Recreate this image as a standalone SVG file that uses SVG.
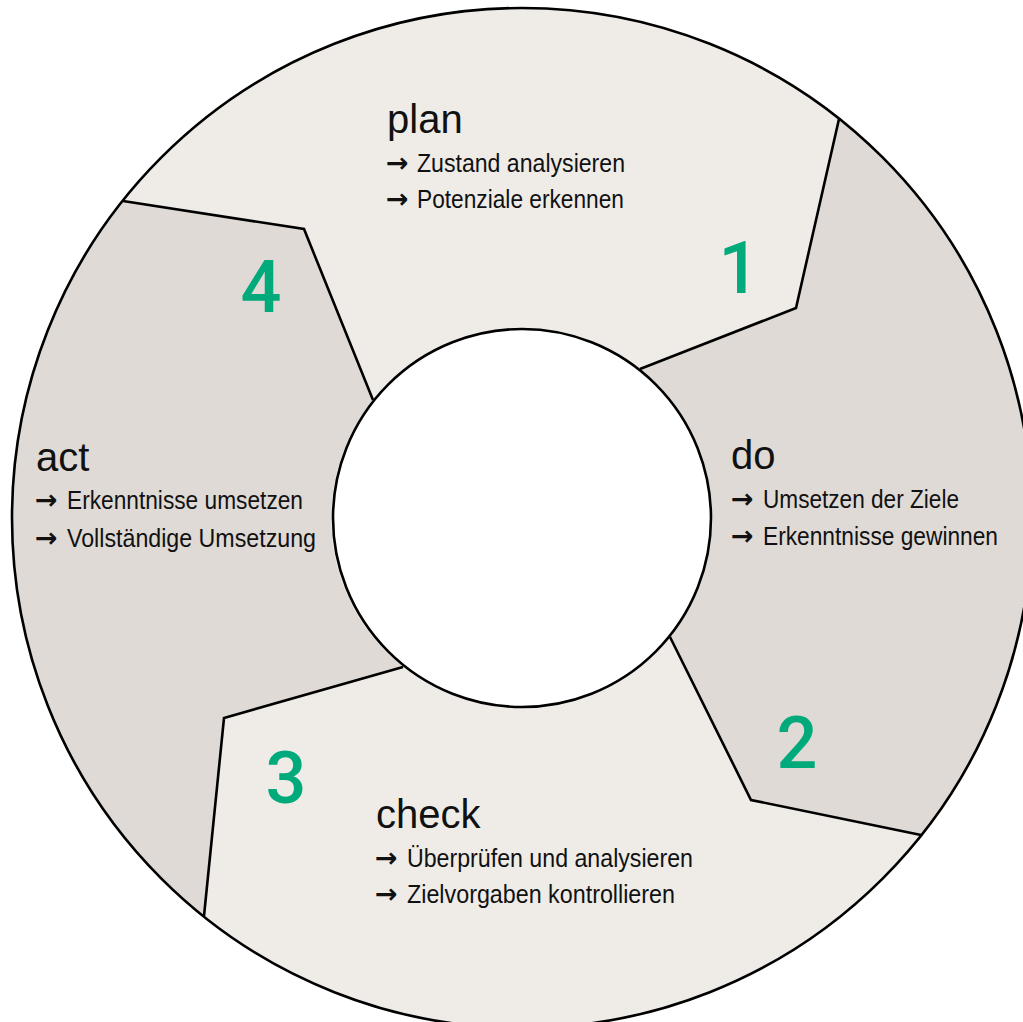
<svg xmlns="http://www.w3.org/2000/svg" width="1023" height="1022" viewBox="0 0 1023 1022">
  <style>
    .light { fill: #efece8; }
    .dark { fill: #dfdad5; }
    .line { fill: none; stroke: #000; stroke-width: 2.6; stroke-linejoin: miter; }
    .title { font-family: "Liberation Sans", Arial, sans-serif; font-size: 40px; fill: #111; }
    .item { font-family: "Liberation Sans", Arial, sans-serif; font-size: 25px; fill: #111; }
    .arrow { font-family: "DejaVu Sans", "Liberation Sans", sans-serif; font-size: 27px; font-weight: bold; fill: #111; }
    .num { font-family: Roboto, "Liberation Sans", sans-serif; font-size: 72px; font-weight: 500; fill: #00aa7b; text-anchor: middle; }
  </style>

  <!-- ring background -->
  <circle class="light" cx="522" cy="518" r="510"/>

  <!-- do sector -->
  <g id="do">
    <path class="dark" d="M839,119 A510,510 0 0 1 921,835 L751,800 L670,637 A189,189 0 0 0 640,369 L796,308 Z"/>
  </g>

  <!-- act sector -->
  <g id="act">
    <path class="dark" d="M204,916 A510,510 0 0 1 123,201 L304,229 L373,400 A189,189 0 0 0 403,667 L224,718 Z"/>
  </g>

  <!-- sector boundaries -->
  <g id="connectors">
    <polyline class="line" points="839,119 796,308 640,369"/>
    <polyline class="line" points="123,201 304,229 373,400"/>
    <polyline class="line" points="403,667 224,718 204,916"/>
    <polyline class="line" points="670,637 751,800 921,835"/>
  </g>

  <!-- hub and rim -->
  <circle cx="522" cy="518" r="189" fill="#fff" stroke="#000" stroke-width="2.6"/>
  <circle cx="522" cy="518" r="510" fill="none" stroke="#000" stroke-width="2.6"/>

  <g id="plan-label">
    <text class="title" x="387" y="133">plan</text>
    <text class="arrow" x="386" y="172">→</text>
    <text class="item" x="417" y="172" textLength="208" lengthAdjust="spacingAndGlyphs">Zustand analysieren</text>
    <text class="arrow" x="386" y="208">→</text>
    <text class="item" x="417" y="208" textLength="207" lengthAdjust="spacingAndGlyphs">Potenziale erkennen</text>
    <text class="num" x="739" y="293">1</text>
  </g>

  <g id="do-label">
    <text class="title" x="731" y="469">do</text>
    <text class="arrow" x="731" y="508">→</text>
    <text class="item" x="763" y="508" textLength="196" lengthAdjust="spacingAndGlyphs">Umsetzen der Ziele</text>
    <text class="arrow" x="731" y="545">→</text>
    <text class="item" x="763" y="545" textLength="235" lengthAdjust="spacingAndGlyphs">Erkenntnisse gewinnen</text>
    <text class="num" x="797" y="768">2</text>
  </g>

  <g id="check-label">
    <text class="title" x="376" y="828">check</text>
    <text class="arrow" x="375" y="867">→</text>
    <text class="item" x="407" y="867" textLength="286" lengthAdjust="spacingAndGlyphs">Überprüfen und analysieren</text>
    <text class="arrow" x="375" y="903">→</text>
    <text class="item" x="407" y="903" textLength="268" lengthAdjust="spacingAndGlyphs">Zielvorgaben kontrollieren</text>
    <text class="num" x="286" y="803">3</text>
  </g>

  <g id="act-label">
    <text class="title" x="36" y="471">act</text>
    <text class="arrow" x="35" y="509">→</text>
    <text class="item" x="67" y="509" textLength="236" lengthAdjust="spacingAndGlyphs">Erkenntnisse umsetzen</text>
    <text class="arrow" x="35" y="547">→</text>
    <text class="item" x="67" y="547" textLength="249" lengthAdjust="spacingAndGlyphs">Vollständige Umsetzung</text>
    <text class="num" x="261" y="312">4</text>
  </g>
</svg>
